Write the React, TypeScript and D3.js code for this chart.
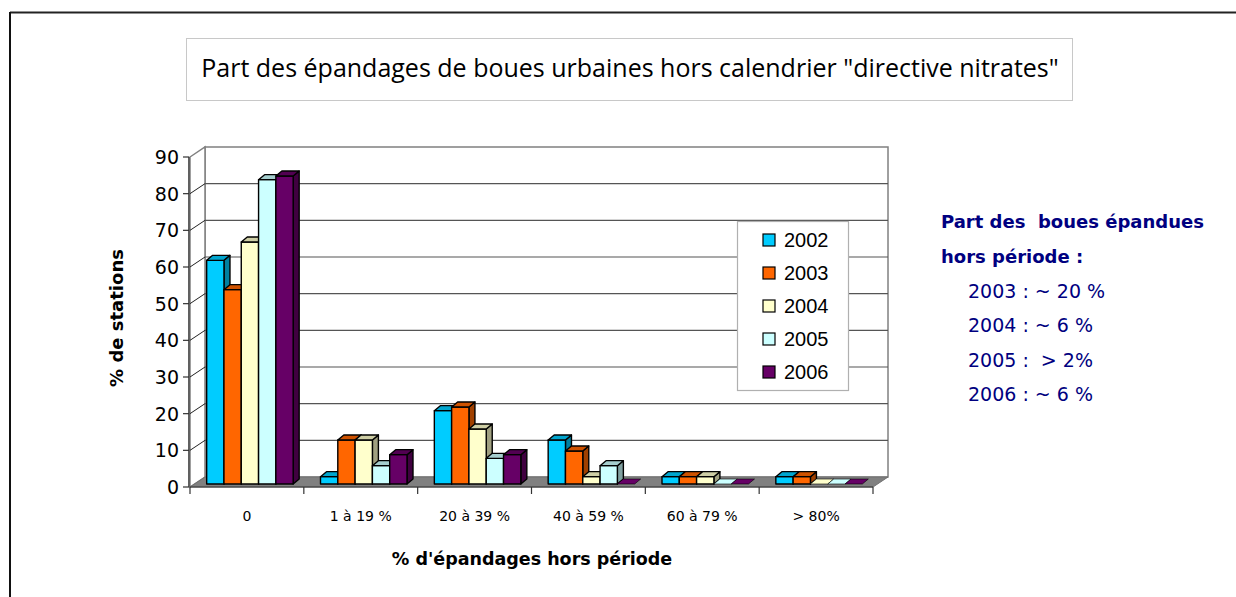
import React from 'react';
import * as d3 from 'd3';

// categories on the x axis
const categories = ['0', '1 à 19 %', '20 à 39 %', '40 à 59 %', '60 à 79 %', '> 80%'];
const years = ['2002', '2003', '2004', '2005', '2006'];

// % de stations, per year
const v2002 = [61, 2, 20, 12, 2, 2];
const v2003 = [53, 12, 21, 9, 2, 2];
const v2004 = [66, 12, 15, 2, 2, 0];
const v2005 = [83, 5, 7, 5, 0, 0];
const v2006 = [84, 8, 8, 0, 0, 0];
const seriesValues = [v2002, v2003, v2004, v2005, v2006];

const yTicks = [0, 10, 20, 30, 40, 50, 60, 70, 80, 90];
const colors = ['#00ccff', '#ff6600', '#ffffcc', '#ccffff', '#660066'];

const noteTitle = ['Part des  boues épandues', 'hors période :'];
const noteLines = ['2003 : ~ 20 %', '2004 : ~ 6 %', '2005 :  > 2%', '2006 : ~ 6 %'];

const W = 1236;
const H = 597;

const App: React.FC = () => {
  const xScale = d3.scaleBand<string>().domain(categories).range([190, 873]);
  const yScale = d3.scaleLinear().domain([0, 90]).range([487, 157]);
  const sScale = d3
    .scaleBand<string>()
    .domain(years)
    .range([0, xScale.bandwidth()])
    .paddingInner(0)
    .paddingOuter(0.79);

  // 3d offsets
  const wall = { dx: 15, dy: -10 };
  const front = { dx: 3, dy: -3 };
  const depth = { dx: 6, dy: -5 };

  const [xl, xr] = xScale.range();
  const y0 = yScale(0);
  const yTop = yScale(90);

  const bars: JSX.Element[] = [];
  categories.forEach((c, ci) => {
    years.forEach((yr, si) => {
      const v = seriesValues[si][ci];
      const col = colors[si];
      const topCol = d3.color(col)!.darker(0.6).formatHex();
      const sideCol = d3.color(col)!.darker(1.3).formatHex();
      const x = (xScale(c) as number) + (sScale(yr) as number) + front.dx;
      const w = sScale.bandwidth();
      const top = yScale(v) + front.dy;
      const bottom = y0 + front.dy;
      const topFace = `M${x},${top}L${x + depth.dx},${top + depth.dy}L${x + w + depth.dx},${top + depth.dy}L${x + w},${top}Z`;
      const sideFace = `M${x + w},${top}L${x + w + depth.dx},${top + depth.dy}L${x + w + depth.dx},${bottom + depth.dy}L${x + w},${bottom}Z`;
      bars.push(
        <g key={`${ci}-${si}`} stroke="#000" strokeWidth={1.4} strokeLinejoin="round">
          {v > 0 && <path d={sideFace} fill={sideCol} />}
          {v > 0 && <rect x={x} y={top} width={w} height={bottom - top} fill={col} />}
          <path d={topFace} fill={v > 0 ? topCol : col} strokeWidth={v > 0 ? 1.4 : 0.6} />
        </g>,
      );
    });
  });

  return (
    <svg
      width={W}
      height={H}
      style={{ position: 'absolute', left: 0, top: 0, display: 'block', background: '#fff' }}
    >
      {/* outer frame */}
      <line x1={10} y1={12.5} x2={W} y2={12.5} stroke="#222" strokeWidth={2} />
      <line x1={10} y1={12} x2={10} y2={H} stroke="#111" strokeWidth={2} />

      {/* title box */}
      <rect x={186.5} y={38.5} width={886} height={62} fill="#fff" stroke="#c8c8c8" strokeWidth={1} />
      <text
        x={630}
        y={70}
        textAnchor="middle"
        dominantBaseline="middle"
        fontFamily="'Open Sans', sans-serif"
        fontSize={25}
        fill="#000"
      >
        Part des épandages de boues urbaines hors calendrier "directive nitrates"
      </text>

      {/* walls */}
      <rect
        x={xl + wall.dx}
        y={yTop + wall.dy}
        width={xr - xl}
        height={y0 - yTop}
        fill="#fff"
        stroke="#808080"
        strokeWidth={1.5}
      />
      <path
        d={`M${xl},${yTop}L${xl + wall.dx},${yTop + wall.dy}L${xl + wall.dx},${y0 + wall.dy}L${xl},${y0}Z`}
        fill="#fff"
        stroke="#808080"
        strokeWidth={1.5}
      />
      {yTicks
        .filter((t) => t > 0 && t < 90)
        .map((t) => (
          <g key={t}>
            <line
              x1={xl + wall.dx}
              x2={xr + wall.dx}
              y1={yScale(t) + wall.dy}
              y2={yScale(t) + wall.dy}
              stroke="#555"
              strokeWidth={1.2}
            />
            <line
              x1={xl}
              y1={yScale(t)}
              x2={xl + wall.dx}
              y2={yScale(t) + wall.dy}
              stroke="#222"
              strokeWidth={1}
            />
          </g>
        ))}
      {/* floor */}
      <path
        d={`M${xl},${y0}L${xr},${y0}L${xr + wall.dx},${y0 + wall.dy}L${xl + wall.dx},${y0 + wall.dy}Z`}
        fill="#808080"
        stroke="#707070"
        strokeWidth={1}
      />

      {bars}

      {/* y axis */}
      <line x1={189} x2={189} y1={yTop} y2={y0} stroke="#606060" strokeWidth={2} />
      {yTicks.map((t) => (
        <g key={t}>
          <line x1={183} x2={189} y1={yScale(t)} y2={yScale(t)} stroke="#333" strokeWidth={1.2} />
          <text
            x={179}
            y={yScale(t)}
            textAnchor="end"
            dominantBaseline="central"
            fontFamily="'DejaVu Sans', sans-serif"
            fontSize={19}
            fill="#000"
          >
            {t}
          </text>
        </g>
      ))}
      <text
        transform={`translate(118,318) rotate(-90)`}
        textAnchor="middle"
        dominantBaseline="middle"
        fontFamily="'DejaVu Sans', sans-serif"
        fontWeight="bold"
        fontSize={18}
        fill="#000"
      >
        % de stations
      </text>

      {/* x axis */}
      <line x1={xl} x2={xr} y1={y0} y2={y0} stroke="#333" strokeWidth={1.2} />
      {[...categories.map((c) => xScale(c) as number), xr].map((x, i) => (
        <line key={i} x1={x} x2={x} y1={y0} y2={y0 + 7} stroke="#333" strokeWidth={1.2} />
      ))}
      {categories.map((c) => (
        <text
          key={c}
          x={(xScale(c) as number) + xScale.bandwidth() / 2}
          y={517}
          textAnchor="middle"
          dominantBaseline="middle"
          fontFamily="'DejaVu Sans', sans-serif"
          fontSize={14}
          fill="#000"
        >
          {c}
        </text>
      ))}
      <text
        x={532}
        y={560}
        textAnchor="middle"
        dominantBaseline="middle"
        fontFamily="'DejaVu Sans', sans-serif"
        fontWeight="bold"
        fontSize={17.5}
        fill="#000"
      >
        % d'épandages hors période
      </text>

      {/* legend */}
      <rect x={737.5} y={221.5} width={111} height={169} fill="#fff" stroke="#b0b0b0" strokeWidth={1.2} />
      {years.map((yr, i) => {
        const cy = 240 + i * 33;
        return (
          <g key={yr}>
            <rect x={763} y={cy - 6} width={12} height={12} fill={colors[i]} stroke="#000" strokeWidth={1.2} />
            <text
              x={784}
              y={cy}
              dominantBaseline="central"
              fontFamily="'Liberation Sans', Arial, sans-serif"
              fontSize={20}
              fill="#000"
            >
              {yr}
            </text>
          </g>
        );
      })}

      {/* side note */}
      {noteTitle.map((s, i) => (
        <text
          key={s}
          x={941}
          y={221 + i * 35}
          dominantBaseline="central"
          fontFamily="'DejaVu Sans', sans-serif"
          fontWeight="bold"
          fontSize={18}
          fill="#000080"
          style={{ whiteSpace: 'pre' }}
        >
          {s}
        </text>
      ))}
      {noteLines.map((s, i) => (
        <text
          key={s}
          x={968}
          y={291 + i * 34.3}
          dominantBaseline="central"
          fontFamily="'DejaVu Sans', sans-serif"
          fontSize={19}
          fill="#000080"
          style={{ whiteSpace: 'pre' }}
        >
          {s}
        </text>
      ))}
    </svg>
  );
};

export default App;
